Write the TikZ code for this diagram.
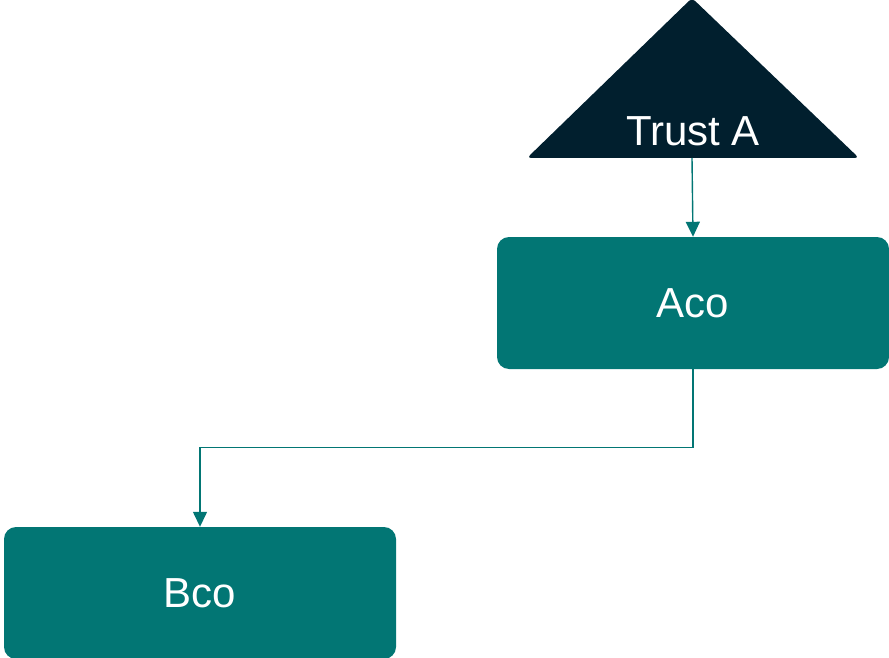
\documentclass[tikz,border=0pt]{standalone}
\usepackage{fontspec}
\setmainfont{Liberation Sans}
\usetikzlibrary{arrows.meta}
\definecolor{teal1}{RGB}{2,118,116}
\definecolor{navy1}{RGB}{1,31,46}
\begin{document}
\begin{tikzpicture}[x=1pt,y=-1pt,
  box/.style={rectangle, rounded corners=12pt, fill=teal1, draw=none,
    minimum width=392pt, minimum height=132pt, inner sep=0pt,
    text=white, font=\fontsize{42}{42}\selectfont},
  conn/.style={draw=teal1, line width=1.4pt, -{Triangle[width=14pt,length=15pt]}}]
\useasboundingbox (0,0) rectangle (889,658);
\fill[navy1, rounded corners=4pt] (692,-2) -- (859,158) -- (527,158) -- cycle;
\node[text=white, font=\fontsize{42}{42}\selectfont, inner sep=0pt] (trust) at (693,131) {Trust A};
\coordinate (tb) at (692,158);
\node[box] (aco) at (693,303) {Aco};
\node[box] (bco) at (200,593) {Bco};
\draw[conn] (tb) -- (aco.north);
\draw[conn] (aco.south) -- ++(0,78) -| (bco.north);
\end{tikzpicture}
\end{document}
